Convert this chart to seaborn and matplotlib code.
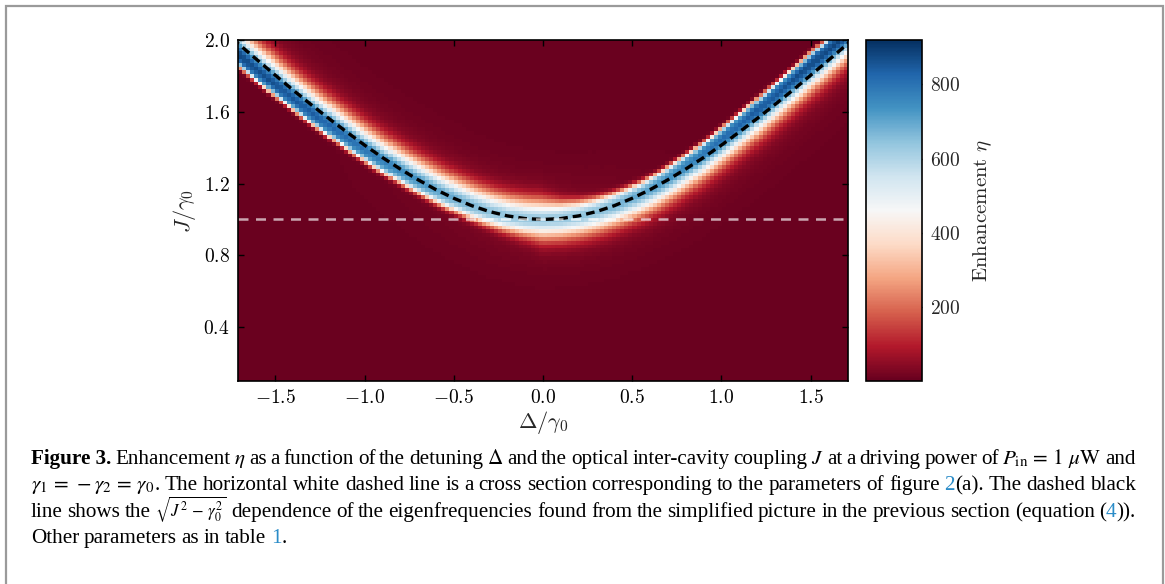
import numpy as np
import pandas as pd
import matplotlib
matplotlib.use("Agg")
import matplotlib.pyplot as plt
from matplotlib.patches import Rectangle
from matplotlib.transforms import IdentityTransform
import seaborn as sns

# ---------------- data ----------------
delta_limits = [-1.71, 1.71]
J_limits = [0.1, 2.0]
n_delta_cells = 150
n_J_cells = 90

# dashed black curve (eigenfrequencies), J/gamma0 vs Delta/gamma0
curve_delta = [-1.8, -1.7, -1.6, -1.5, -1.4, -1.3, -1.2, -1.1, -1.0, -0.9, -0.8, -0.7,
               -0.6, -0.5, -0.4, -0.3, -0.2, -0.1, 0.0, 0.1, 0.2, 0.3, 0.4, 0.5, 0.6,
               0.7, 0.8, 0.9, 1.0, 1.1, 1.2, 1.3, 1.4, 1.5, 1.6, 1.7, 1.8]
curve_J = [2.059, 1.972, 1.887, 1.803, 1.720, 1.640, 1.562, 1.487, 1.414, 1.345, 1.281, 1.221,
           1.166, 1.118, 1.077, 1.044, 1.020, 1.005, 1.000, 1.005, 1.020, 1.044, 1.077, 1.118, 1.166,
           1.221, 1.281, 1.345, 1.414, 1.487, 1.562, 1.640, 1.720, 1.803, 1.887, 1.972, 2.059]

# bright enhancement ridge: shifted towards negative detuning (more so at large J)
shift_J = [1.0, 1.15, 1.4, 1.7, 2.1]
shift_delta = [0.0, -0.01, -0.045, -0.07, -0.08]
peak_J = [1.0, 1.2, 1.4, 1.6, 1.8, 2.0]
peak_eta = [590, 690, 760, 800, 825, 845]
broad_width = 0.072
sharp_width = 0.040
glow_eta = 40.0
glow_width = 0.16
background_eta = 5.0

cross_section_J = 1.0
eta_min, eta_max = 0, 920

xtick_values = [-1.5, -1.0, -0.5, 0.0, 0.5, 1.0, 1.5]
ytick_values = [0.4, 0.8, 1.2, 1.6, 2.0]
cbar_ticks = [200, 400, 600, 800]

# ---------------- build the enhancement map ----------------
d_edges = np.linspace(delta_limits[0], delta_limits[1], n_delta_cells + 1)
j_edges = np.linspace(J_limits[0], J_limits[1], n_J_cells + 1)
d_c = 0.5 * (d_edges[:-1] + d_edges[1:])
j_c = 0.5 * (j_edges[:-1] + j_edges[1:])
DD, JJ = np.meshgrid(d_c, j_c)
P = np.stack([DD.ravel(), JJ.ravel()], 1)
ry = np.array(curve_J)
rx = np.array(curve_delta) + np.interp(ry, shift_J, shift_delta)
A = np.stack([rx[:-1], ry[:-1]], 1)
B = np.stack([rx[1:], ry[1:]], 1)
AB = B - A
seg_len = np.linalg.norm(AB, axis=1)
u = AB / seg_len[:, None]
vt = np.vstack([u[:1], u[:-1] + u[1:], u[-1:]])
vt = vt / np.linalg.norm(vt, axis=1)[:, None]

AP = P[:, None, :] - A[None, :, :]
t = np.clip((AP * AB[None]).sum(-1) / (AB ** 2).sum(-1)[None], 0, 1)
Q = A[None] + t[..., None] * AB[None]
dist2 = ((P[:, None, :] - Q) ** 2).sum(-1)
k = np.argmin(dist2, axis=1)
idx = np.arange(P.shape[0])
q = Q[idx, k]
tk = t[idx, k]
nu = np.stack([-u[k, 1], u[k, 0]], 1)
n = ((P - q) * nu).sum(1)
tan = (1 - tk)[:, None] * vt[k] + tk[:, None] * vt[k + 1]
tan = tan / np.linalg.norm(tan, axis=1)[:, None]
sin_t = tan[:, 1]
side = np.clip(-sin_t * np.tanh(n / 0.01) / 0.6, -1, 1)
peak = np.interp(q[:, 1], peak_J, peak_eta)
broad = np.exp(-0.5 * (n / broad_width) ** 2)
w = np.clip(-side, 0, 1)
p_exp = 2 + 2 * w
s = broad_width + (sharp_width - broad_width) * w
sharp = np.exp(-0.5 * np.abs(n / s) ** p_exp)
prof = np.where(side >= 0, broad, sharp)
glow = glow_eta * np.exp(-0.5 * (n / glow_width) ** 2) * (1 - w)
eta = (background_eta + peak * prof + glow).reshape(n_J_cells, n_delta_cells)

df = pd.DataFrame(eta[::-1], index=np.round(j_c[::-1], 4), columns=np.round(d_c, 4))

# ---------------- plot ----------------
sns.set_style("ticks")
plt.rcParams["font.family"] = ["DejaVu Serif"]
plt.rcParams["mathtext.fontset"] = "cm"

W, H = 1165, 584
fig = plt.figure(figsize=(W / 100, H / 100), dpi=100)
pos = [238 / W, 1 - 381 / H, 610 / W, 341 / H]
ax = fig.add_axes(pos)
cax = fig.add_axes([866 / W, 1 - 381 / H, 56 / W, 341 / H])

sns.heatmap(df, ax=ax, cbar_ax=cax, cmap="RdBu", vmin=eta_min, vmax=eta_max,
            xticklabels=False, yticklabels=False)
ax.set_xlabel("")
ax.set_ylabel("")
ax.tick_params(left=False, bottom=False)
for sp in ax.spines.values():
    sp.set_visible(False)

ax2 = fig.add_axes(pos)
ax2.patch.set_alpha(0)
sns.lineplot(x=curve_delta, y=curve_J, ax=ax2, color="black", linewidth=2.4,
             sort=False, estimator=None)
ax2.lines[-1].set_dashes([2.6, 1.5])
ax2.axhline(cross_section_J, color="white", alpha=0.65, lw=1.8, dashes=(4, 3))
ax2.set_xlim(delta_limits)
ax2.set_ylim(J_limits)
ax2.set_xticks(xtick_values)
ax2.set_xticklabels([rf"${v:.1f}$" for v in xtick_values])
ax2.set_yticks(ytick_values)
ax2.set_yticklabels([rf"${v:.1f}$" for v in ytick_values])
ax2.tick_params(direction="in", top=True, right=True, length=4, width=1,
                labelsize=14, pad=6, colors="black")
for sp in ax2.spines.values():
    sp.set_visible(True)
    sp.set_linewidth(1.2)
    sp.set_color("black")
ax2.set_xlabel(r"$\Delta/\gamma_0$", fontsize=16, labelpad=1)
ax2.set_ylabel(r"$J/\gamma_0$", fontsize=16, labelpad=4)

cb = ax.collections[0].colorbar
cb.set_ticks(cbar_ticks, labels=[rf"${v}$" for v in cbar_ticks])
cb.outline.set_visible(True)
cb.outline.set_linewidth(1.2)
cb.outline.set_edgecolor("black")
cax.tick_params(direction="in", length=4, width=1, labelsize=14, right=True, left=False, pad=6)
cb.set_label(r"$\mathrm{Enhancement}\ \eta$", fontsize=15, labelpad=8)

# ---------------- caption ----------------
LINK = "#2a8cc8"
BOLD = "bold"
caption_lines = [
    [[("Figure 3.", "black", BOLD)], "Enhancement", r"$\eta$", "as", "a", "function", "of", "the",
     "detuning", r"$\Delta$", "and", "the", "optical", "inter-cavity", "coupling", r"$J$", "at",
     "a", "driving", "power", "of", r"$P_{\mathrm{in}}\,=\,1\ \mu\mathrm{W}$", "and"],
    [[(r"$\gamma_1\,=\,-\gamma_2\,=\,\gamma_0$", "black", "normal"), (".", "black", "normal")],
     "The", "horizontal", "white", "dashed", "line", "is", "a", "cross", "section", "corresponding",
     "to", "the", "parameters", "of", "figure",
     [("2", LINK, "normal"), ("(a).", "black", "normal")], "The", "dashed", "black"],
    ["line", "shows", "the", [(r"$\sqrt{J^2\,-\,\gamma_0^2}$", "black", "normal", 0.8)],
     "dependence", "of", "the",
     "eigenfrequencies", "found", "from", "the", "simplified", "picture", "in", "the", "previous",
     "section", "(equation",
     [("(", "black", "normal"), ("4", LINK, "normal"), (")).", "black", "normal")]],
    ["Other", "parameters", "as", "in", "table", [("1", LINK, "normal"), (".", "black", "normal")]],
]
justified = [True, True, True, False]
baselines = [464, 490, 517, 543]
x_left, x_right = 31, 1136

fig.canvas.draw()
renderer = fig.canvas.get_renderer()


def norm_word(wd):
    if isinstance(wd, str):
        return [(wd, "black", "normal", 1.0)]
    return [p if len(p) == 4 else (p[0], p[1], p[2], 1.0) for p in wd]


def make_text(x, y, s, fs, color, weight):
    return fig.text(x, y, s, transform=IdentityTransform(), fontsize=fs, color=color,
                    fontweight=weight, family="Liberation Serif", math_fontfamily="stix",
                    ha="left", va="baseline")


def piece_width(s, fs, weight):
    tt = make_text(0, 0, s, fs, "black", weight)
    wdt = tt.get_window_extent(renderer).width
    tt.remove()
    return wdt


fs = 17.0
while fs > 9:
    ok = True
    for li, line in enumerate(caption_lines):
        if not justified[li]:
            continue
        tot = sum(piece_width(p[0], fs * p[3], p[2]) for wd in line for p in norm_word(wd))
        gap = (x_right - x_left - tot) / (len(line) - 1)
        if gap < 3.6:
            ok = False
            break
    if ok:
        break
    fs -= 0.25

nat_gap = 0.22 * fs * 100 / 72
for li, line in enumerate(caption_lines):
    words = [norm_word(wd) for wd in line]
    widths = [[piece_width(p[0], fs * p[3], p[2]) for p in wd] for wd in words]
    tot = sum(sum(wl) for wl in widths)
    gap = (x_right - x_left - tot) / (len(words) - 1) if justified[li] else nat_gap
    x = x_left
    y = H - baselines[li]
    for wd, wl in zip(words, widths):
        for (txt, col, wt, sc), pw in zip(wd, wl):
            make_text(x, y, txt, fs * sc, col, wt)
            x += pw
        x += gap

# grey frame around the figure
fig.add_artist(Rectangle((5.5, -20), 1157.5, H - 5.5 + 20, transform=IdentityTransform(),
                         fill=False, edgecolor="#9a9a9a", linewidth=1.6))

fig.savefig("out.png", dpi=100)
